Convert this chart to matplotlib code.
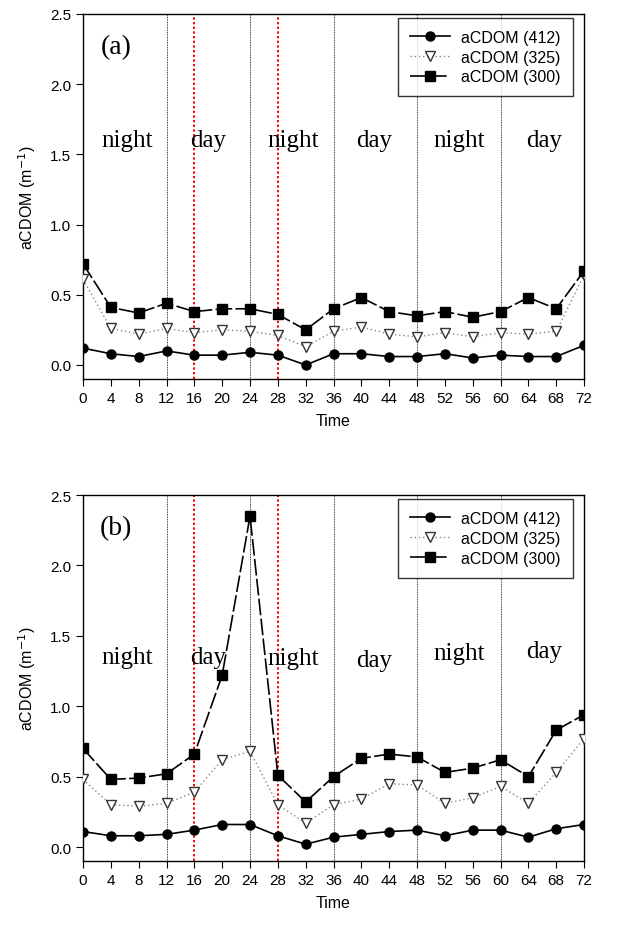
import matplotlib
matplotlib.use("Agg")
import matplotlib.pyplot as plt

# time axis (hours)
time = [0, 4, 8, 12, 16, 20, 24, 28, 32, 36, 40, 44, 48, 52, 56, 60, 64, 68, 72]

# panel (a)
a412 = [0.12, 0.08, 0.06, 0.10, 0.07, 0.07, 0.09, 0.07, 0.00, 0.08, 0.08, 0.06, 0.06,
        0.08, 0.05, 0.07, 0.06, 0.06, 0.14]
a325 = [0.61, 0.26, 0.22, 0.26, 0.23, 0.25, 0.24, 0.21, 0.13, 0.24, 0.27, 0.22, 0.20,
        0.23, 0.20, 0.23, 0.22, 0.24, 0.64]
a300 = [0.72, 0.41, 0.37, 0.44, 0.38, 0.40, 0.40, 0.36, 0.25, 0.40, 0.48, 0.38, 0.35,
        0.38, 0.34, 0.38, 0.48, 0.40, 0.67]

# panel (b)
b412 = [0.11, 0.08, 0.08, 0.09, 0.12, 0.16, 0.16, 0.08, 0.02, 0.07, 0.09, 0.11, 0.12,
        0.08, 0.12, 0.12, 0.07, 0.13, 0.16]
b325 = [0.48, 0.30, 0.29, 0.31, 0.39, 0.62, 0.68, 0.30, 0.17, 0.30, 0.34, 0.45, 0.44,
        0.31, 0.35, 0.43, 0.31, 0.53, 0.77]
b300 = [0.70, 0.48, 0.49, 0.52, 0.66, 1.22, 2.35, 0.51, 0.32, 0.50, 0.63, 0.66, 0.64,
        0.53, 0.56, 0.62, 0.50, 0.83, 0.94]

black_lines = [12, 24, 36, 48, 60]
red_lines = [16, 28]
period_labels = ["night", "day", "night", "day", "night", "day"]
label_x = [6.3, 18.0, 30.2, 41.8, 54.0, 66.2]

fig = plt.figure(figsize=(6.24, 9.28), dpi=100)
ax_a = fig.add_axes([0.133, 0.5905, 0.803, 0.3935])
ax_b = fig.add_axes([0.133, 0.0710, 0.803, 0.3945])

sans = "Liberation Sans"
serif = "Liberation Serif"


def draw_panel(ax, s412, s325, s300, tag, label_y):
    for x in black_lines:
        ax.axvline(x, color="black", ls=(0, (1, 1)), lw=0.6, zorder=1)
    for x in red_lines:
        ax.axvline(x, color="red", ls=(0, (1.2, 1.2)), lw=1.4, zorder=1)

    ax.plot(time, s412, color="black", ls="-", lw=1.2, marker="o", ms=6.5,
            mfc="black", mec="black", label="aCDOM (412)", zorder=3)
    ax.plot(time, s325, color="#888888", ls=(0, (1, 2)), lw=1.0, marker="v", ms=7.5,
            mfc="white", mec="#333333", mew=1.0, label="aCDOM (325)", zorder=3)
    ax.plot(time, s300, color="black", ls=(0, (10, 2)), lw=1.2, marker="s", ms=7,
            mfc="black", mec="black", label="aCDOM (300)", zorder=3)

    for x, y_txt, txt in zip(label_x, label_y, period_labels):
        ax.text(x, y_txt, txt, family=serif, fontsize=18, ha="center", va="center", zorder=2)
    ax.text(4.8, 2.27, tag, family=serif, fontsize=20, ha="center", va="center")

    ax.set_xlim(0, 72)
    ax.set_ylim(-0.1, 2.5)
    ax.set_xticks(time)
    ax.set_yticks([0.0, 0.5, 1.0, 1.5, 2.0, 2.5])
    ax.set_yticklabels(["0.0", "0.5", "1.0", "1.5", "2.0", "2.5"])
    ax.tick_params(direction="out", length=5, width=0.8, labelsize=11)
    for lab in ax.get_xticklabels() + ax.get_yticklabels():
        lab.set_family(sans)
    ax.set_xlabel("Time", family=sans, fontsize=11.5, labelpad=6)
    ax.set_ylabel("aCDOM (m$^{-1}$)", family=sans, fontsize=11.5, labelpad=9)
    for sp in ax.spines.values():
        sp.set_linewidth(1.0)

    leg = ax.legend(loc="upper right", prop={"family": sans, "size": 11.5},
                    frameon=True, fancybox=False, edgecolor="black",
                    handlelength=2.5, handletextpad=0.7, borderpad=0.75,
                    labelspacing=0.3, borderaxespad=0,
                    bbox_to_anchor=(0.977, 0.989))
    leg.get_frame().set_linewidth(1.0)
    leg.set_zorder(5)


draw_panel(ax_a, a412, a325, a300, "(a)", [1.6] * 6)
draw_panel(ax_b, b412, b325, b300, "(b)", [1.35, 1.35, 1.34, 1.33, 1.38, 1.39])

fig.savefig("out.png", dpi=100)
